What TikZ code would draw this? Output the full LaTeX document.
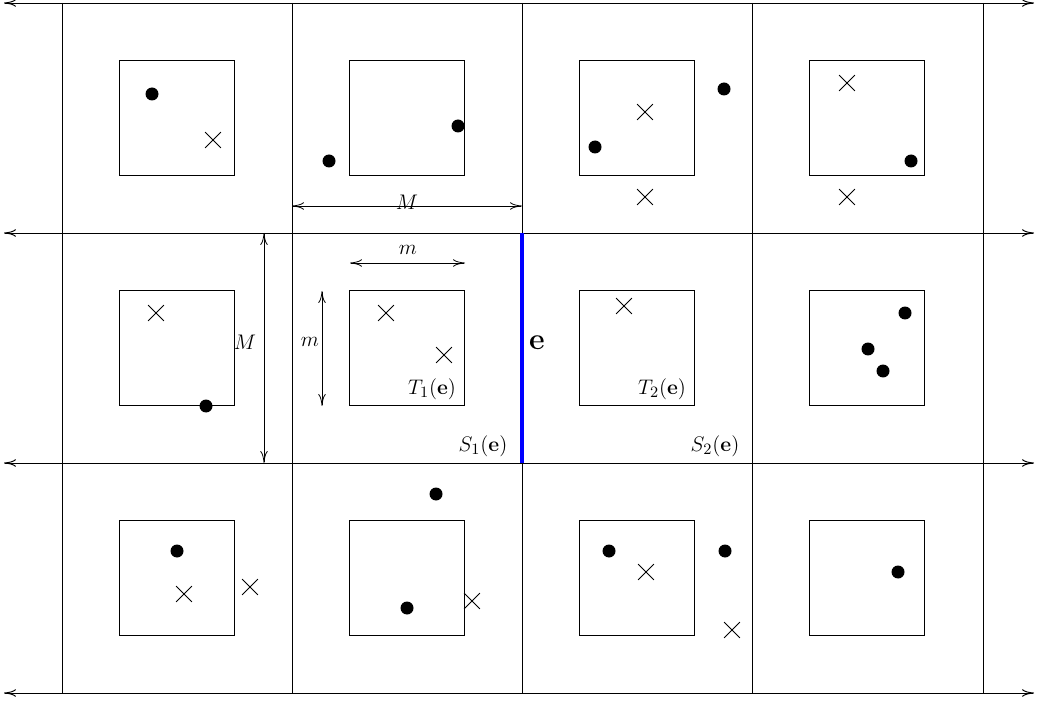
\documentclass[tikz,border=0pt]{standalone}
\usepackage{amsmath}
\usetikzlibrary{shapes.misc, arrows.meta}
\tikzset{
  gridline/.style={line width=0.55pt, color=black},
  innersq/.style={rectangle, draw, line width=0.55pt, minimum size=2.3cm, inner sep=0pt},
  dot/.style={circle, fill=black, minimum size=0.26cm, inner sep=0pt},
  xmark/.style={cross out, draw, line width=0.45pt, minimum size=0.3cm, inner sep=0pt},
  tip/.style={{Computer Modern Rightarrow[length=2.4mm, width=1.5mm]}-{Computer Modern Rightarrow[length=2.4mm, width=1.5mm]}},
  dim/.style={tip, line width=0.45pt},
  lbl/.style={font=\fontsize{12.6}{15}\selectfont, inner sep=1pt}
}

\begin{document}
\begin{tikzpicture}[x=0.02cm, y=-0.02cm]
  \useasboundingbox (0,0) rectangle (1037,702);

  % grid of cells
  \foreach \gx in {62,292,522,752,983}
    \draw[gridline] (\gx,3) -- (\gx,693);
  \foreach \gy in {3,233,463,693}
    \draw[gridline, tip] (4,\gy) -- (1034,\gy);

  % the edge e
  \coordinate (eTop) at (522,233);
  \coordinate (eBot) at (522,463);
  \draw[blue, line width=1.8pt] (eTop) -- (eBot);
  \node[font=\LARGE] (elbl) at (537,343) {$\mathbf{e}$};

  % inner squares
  \foreach \c in {0,1,2,3}
    \foreach \r in {0,1,2}
      \node[innersq] (sq\r\c) at ({177+230*\c},{118+230*\r}) {};

  % points
  \foreach \p [count=\i] in {(152,94),(329,161),(458,126),(595,147),(724,89),(911,161),
      (206,406),(905,313),(868,349),(883,371),
      (177,551),(436,494),(407,608),(609,551),(725,551),(898,572)}
    \node[dot] (d\i) at \p {};
  \foreach \p [count=\i] in {(213,140),(645,112),(645,197),(847,83),(847,197),
      (156,313),(386,313),(444,355),(624,306),
      (184,594),(250,587),(472,601),(646,572),(732,630)}
    \node[xmark] (x\i) at \p {};

  % dimensions
  \coordinate (MhL) at (292,206);
  \coordinate (MhR) at (522,206);
  \draw[dim] (MhL) -- (MhR) node[lbl, midway, above=-3pt] (Mh) {$M$};
  \coordinate (MvT) at (264,233);
  \coordinate (MvB) at (264,463);
  \draw[dim] (MvT) -- (MvB);
  \node[lbl] (Mv) at (245,342) {$M$};
  \coordinate (mhL) at (350,263);
  \coordinate (mhR) at (465,263);
  \draw[dim] (mhL) -- (mhR);
  \node[lbl] (mh) at (408,250) {$m$};
  \coordinate (mvT) at (322,291);
  \coordinate (mvB) at (322,406);
  \draw[dim] (mvT) -- (mvB);
  \node[lbl] (mv) at (310,342) {$m$};

  % labels
  \node[lbl] (T1) at (432,389) {$T_1(\mathbf{e})$};
  \node[lbl] (T2) at (662,389) {$T_2(\mathbf{e})$};
  \node[lbl] (S1) at (483,446) {$S_1(\mathbf{e})$};
  \node[lbl] (S2) at (715,446) {$S_2(\mathbf{e})$};
\end{tikzpicture}
\end{document}
